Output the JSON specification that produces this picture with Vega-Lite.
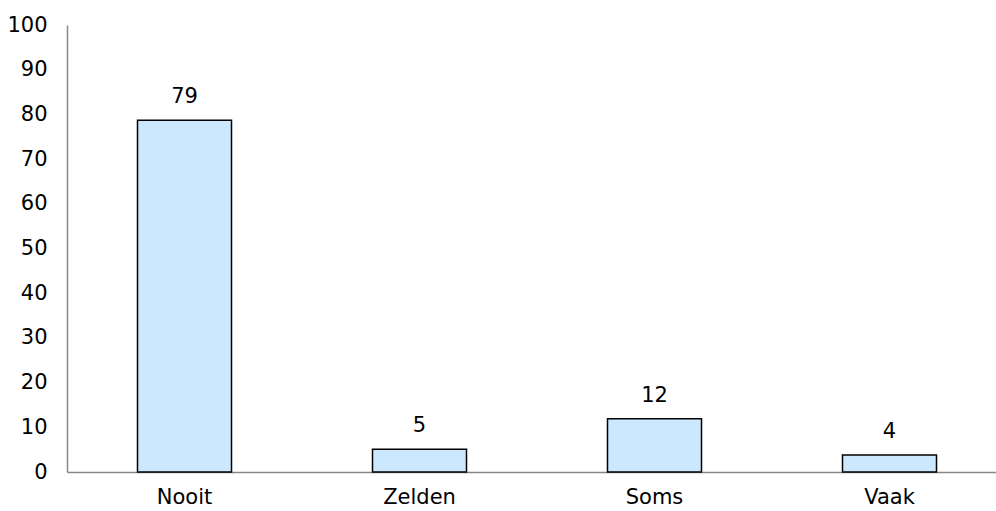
{
  "$schema": "https://vega.github.io/schema/vega-lite/v6.json",
  "width": 929,
  "height": 447,
  "autosize": {"type": "none"},
  "padding": {"left": 67, "top": 25, "right": 0, "bottom": 39},
  "background": "white",
  "config": {
    "view": {"stroke": null},
    "font": "DejaVu Sans"
  },
  "data": {
    "values": [
      {"cat": "Nooit", "v": 78.7},
      {"cat": "Zelden", "v": 5.1},
      {"cat": "Soms", "v": 11.9},
      {"cat": "Vaak", "v": 3.8}
    ]
  },
  "encoding": {
    "x": {
      "field": "cat", "type": "nominal", "sort": null,
      "scale": {"range": [0, 940], "paddingInner": 0.6, "paddingOuter": 0.3},
      "axis": {"title": null, "labelAngle": 0, "labelFontSize": 21, "labelColor": "#000", "labelPadding": 14, "ticks": false, "domainColor": "#888", "domainWidth": 1.5, "grid": false}
    },
    "y": {
      "field": "v", "type": "quantitative",
      "scale": {"domain": [0, 100], "nice": false},
      "axis": {"title": null, "values": [0,10,20,30,40,50,60,70,80,90,100], "labelFontSize": 21, "labelColor": "#000", "labelPadding": 20, "ticks": false, "grid": false, "domainColor": "#888", "domainWidth": 1.5}
    }
  },
  "layer": [
    {"mark": {"type": "bar", "fill": "#CCE8FF", "stroke": "#000", "strokeWidth": 1.5}},
    {"mark": {"type": "text", "baseline": "bottom", "dy": -13, "fontSize": 21, "color": "#000"},
     "encoding": {"text": {"field": "v", "type": "quantitative", "format": ".0f"}}}
  ]
}
